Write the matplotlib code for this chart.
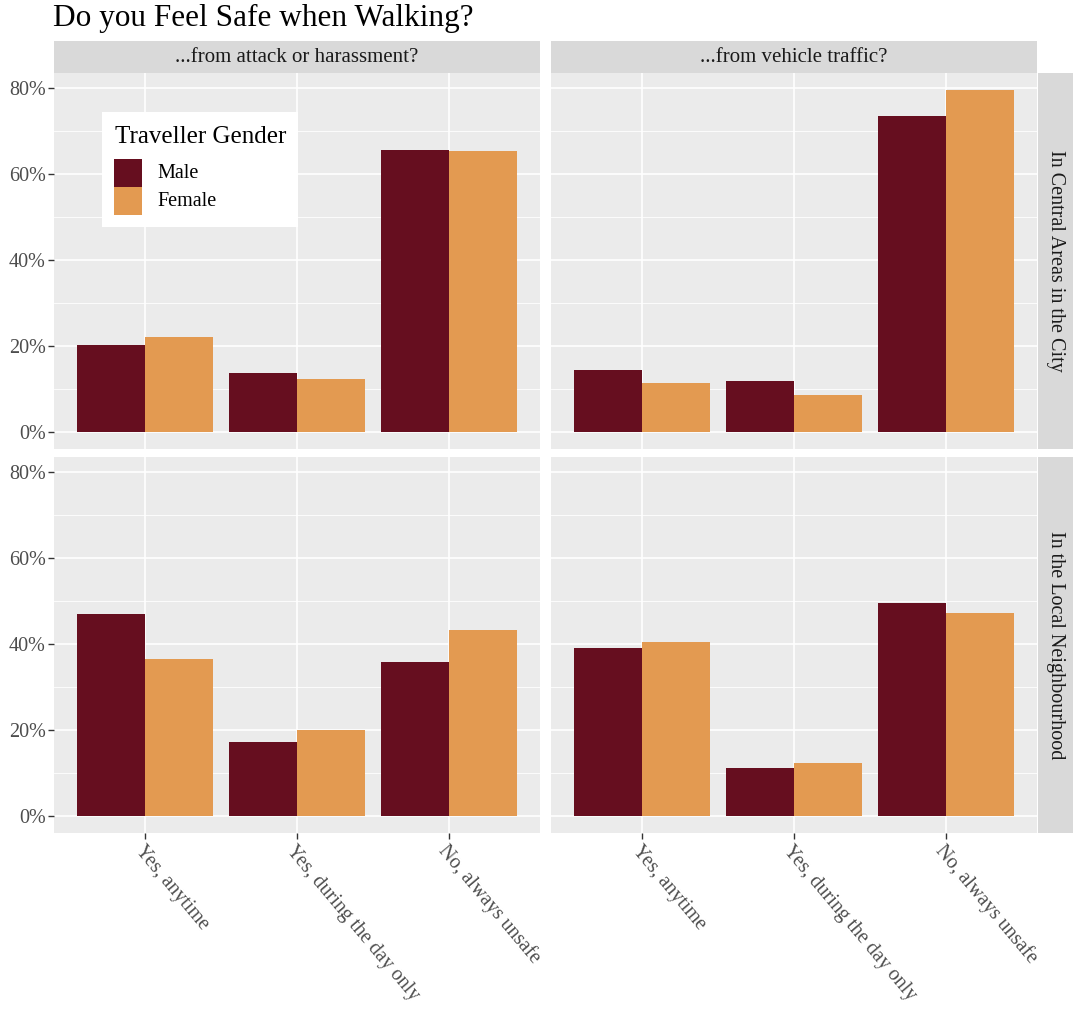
import matplotlib
matplotlib.use("Agg")
import matplotlib.pyplot as plt
from matplotlib.patches import Rectangle
import numpy as np

plt.rcParams['font.family'] = ['Liberation Serif', 'DejaVu Serif']

categories = ["Yes, anytime", "Yes, during the day only", "No, always unsafe"]
col_facets = ["...from attack or harassment?", "...from vehicle traffic?"]
row_facets = ["In Central Areas in the City", "In the Local Neighbourhood"]
genders = ["Male", "Female"]

# values in %
central_attack_male = [20.1, 13.8, 65.6]
central_attack_female = [22.1, 12.4, 65.3]
central_traffic_male = [14.4, 11.8, 73.4]
central_traffic_female = [11.4, 8.6, 79.5]
local_attack_male = [46.9, 17.1, 35.8]
local_attack_female = [36.5, 20.0, 43.2]
local_traffic_male = [39.1, 11.2, 49.5]
local_traffic_female = [40.4, 12.4, 47.3]

yticks = [0, 20, 40, 60, 80]
ytick_labels = ["0%", "20%", "40%", "60%", "80%"]

data = {
    (0, 0): (central_attack_male, central_attack_female),
    (0, 1): (central_traffic_male, central_traffic_female),
    (1, 0): (local_attack_male, local_attack_female),
    (1, 1): (local_traffic_male, local_traffic_female),
}

male_col = "#660E1F"
female_col = "#E39A51"
colors = [male_col, female_col]

W, H = 1073, 1009
fig = plt.figure(figsize=(W / 100, H / 100), dpi=100)

def fx(px):
    return px / W

def fy(py):
    return 1 - py / H

col_x = [(54, 540), (551, 1037)]
row_y = [(73, 449), (457, 833)]

allvals = np.concatenate([np.array(v) for pair in data.values() for v in pair])
ymax = allvals.max()
pad = 0.05 * ymax

for r in range(2):
    for c in range(2):
        x0, x1 = col_x[c]
        y0, y1 = row_y[r]
        ax = fig.add_axes([fx(x0), fy(y1), fx(x1) - fx(x0), fy(y0) - fy(y1)])
        ax.set_facecolor("#EBEBEB")
        for s in ax.spines.values():
            s.set_visible(False)
        xs = np.arange(1, len(categories) + 1)
        w = 0.45
        male, female = data[(r, c)]
        ax.bar(xs - w / 2, male, width=w, color=male_col, zorder=3)
        ax.bar(xs + w / 2, female, width=w, color=female_col, zorder=3)
        ax.set_xlim(0.4, 3.6)
        ax.set_ylim(-pad, ymax + pad)
        ax.set_yticks(yticks)
        ax.set_yticks([10, 30, 50, 70], minor=True)
        ax.set_xticks(xs)
        ax.grid(True, which='major', color='white', linewidth=1.2, zorder=0)
        ax.grid(True, which='minor', axis='y', color='white', linewidth=0.6, zorder=0)
        ax.set_axisbelow(True)
        ax.tick_params(which='minor', length=0)
        ax.tick_params(which='major', length=4, width=1.0, color='#333333',
                       labelcolor='#4D4D4D', labelsize=14.5, pad=2)
        if c == 0:
            ax.set_yticklabels(ytick_labels)
        else:
            ax.tick_params(axis='y', length=0, labelleft=False)
        if r == 1:
            ax.set_xticklabels(categories, rotation=-50, ha='left', va='top',
                               rotation_mode='anchor')
        else:
            ax.tick_params(axis='x', length=0, labelbottom=False)

# top strips
for c in range(2):
    x0, x1 = col_x[c]
    sax = fig.add_axes([fx(x0), fy(73), fx(x1) - fx(x0), fy(41) - fy(73)])
    sax.set_facecolor("#D9D9D9")
    sax.set_xticks([]); sax.set_yticks([])
    for s in sax.spines.values():
        s.set_visible(False)
    sax.text(0.5, 0.5, col_facets[c], ha='center', va='center', fontsize=15,
             color='#1A1A1A', transform=sax.transAxes)

# right strips
for r in range(2):
    y0, y1 = row_y[r]
    sax = fig.add_axes([fx(1038), fy(y1), fx(1073) - fx(1038), fy(y0) - fy(y1)])
    sax.set_facecolor("#D9D9D9")
    sax.set_xticks([]); sax.set_yticks([])
    for s in sax.spines.values():
        s.set_visible(False)
    sax.text(0.5, 0.5, row_facets[r], ha='center', va='center', fontsize=14.5,
             color='#1A1A1A', rotation=270, transform=sax.transAxes)

# title
fig.text(fx(53), fy(26), "Do you Feel Safe when Walking?", fontsize=22.5,
         color='black', ha='left', va='baseline')

# legend (drawn in an overlay with pixel coordinates)
lax = fig.add_axes([0, 0, 1, 1], zorder=10)
lax.set_xlim(0, W)
lax.set_ylim(H, 0)
lax.axis('off')
lax.add_patch(Rectangle((102, 112), 196, 115, facecolor='white', edgecolor='none'))
lax.text(115, 143, "Traveller Gender", fontsize=18, color='black',
         ha='left', va='baseline')
key_top = [159, 187]
for i, g in enumerate(genders):
    lax.add_patch(Rectangle((114, key_top[i]), 28, 28, facecolor=colors[i],
                            edgecolor='none'))
    lax.text(157, key_top[i] + 14, g, fontsize=14.5, color='black',
             ha='left', va='center')

fig.savefig("out.png", dpi=100)
